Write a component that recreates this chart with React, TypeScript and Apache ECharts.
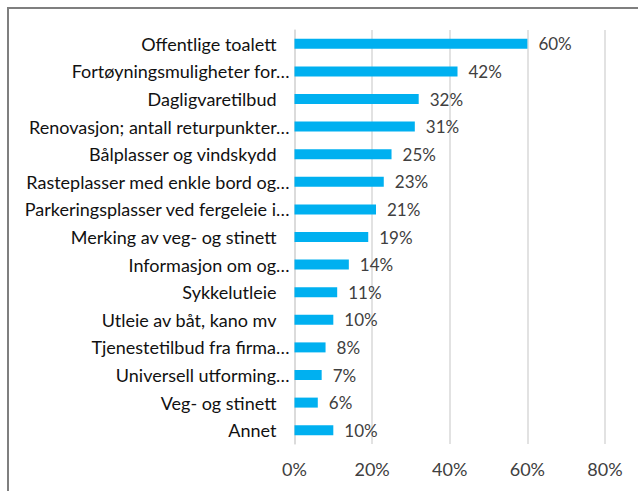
import React, { useEffect, useRef } from "react";
import * as echarts from "echarts";

const categories: string[] = [
  "Offentlige toalett",
  "Fortøyningsmuligheter for…",
  "Dagligvaretilbud",
  "Renovasjon; antall returpunkter…",
  "Bålplasser og vindskydd",
  "Rasteplasser med enkle bord og…",
  "Parkeringsplasser ved fergeleie i…",
  "Merking av veg- og stinett",
  "Informasjon om og…",
  "Sykkelutleie",
  "Utleie av båt, kano mv",
  "Tjenestetilbud fra firma…",
  "Universell utforming…",
  "Veg- og stinett",
  "Annet",
];

const values: number[] = [60, 42, 32, 31, 25, 23, 21, 19, 14, 11, 10, 8, 7, 6, 10];

const xTicks: number[] = [0, 20, 40, 60, 80];

const FONT = "Lato";

export default function App() {
  const ref = useRef<HTMLDivElement>(null);
  useEffect(() => {
    if (!ref.current) return;
    const chart = echarts.init(ref.current, null, { renderer: "svg" });
    chart.setOption({
      animation: false,
      backgroundColor: "#ffffff",
      textStyle: { fontFamily: FONT },
      graphic: [
        {
          type: "rect",
          shape: { x: 8, y: 8, width: 700, height: 600 },
          style: { fill: "none", stroke: "#7f7f7f", lineWidth: 2 },
          silent: true,
        },
      ],
      grid: { left: 294.5, right: 33, top: 30, bottom: 47, containLabel: false },
      xAxis: {
        type: "value",
        min: xTicks[0],
        max: xTicks[xTicks.length - 1],
        interval: 20,
        axisLine: { show: false },
        axisTick: { show: false },
        splitLine: { show: true, lineStyle: { color: "#d9d9d9", width: 1.5 } },
        axisLabel: {
          formatter: (v: number) => v + "%",
          color: "#404040",
          fontSize: 18,
          fontFamily: FONT,
          margin: 16,
        },
      },
      yAxis: {
        type: "category",
        data: categories,
        inverse: true,
        axisLine: { show: true, lineStyle: { color: "#d9d9d9", width: 1.5 } },
        axisTick: { show: false },
        axisLabel: {
          color: "#111111",
          fontSize: 18,
          fontFamily: FONT,
          margin: 5,
          formatter: (v: string) => (v.endsWith("…") ? "{a|" + v + "}" : "{b|" + v + "}"),
          rich: {
            a: { fontSize: 18, fontFamily: FONT, color: "#111111" },
            b: { fontSize: 18, fontFamily: FONT, color: "#111111", padding: [0, 13, 0, 0] },
          },
        },
      },
      series: [
        {
          type: "bar",
          data: values,
          barWidth: 10,
          itemStyle: { color: "#00b0f0" },
          label: {
            show: true,
            position: "right",
            distance: 11,
            formatter: (p: any) => p.value + "%",
            color: "#404040",
            fontSize: 17,
            fontFamily: FONT,
          },
        },
      ],
    });
    return () => chart.dispose();
  }, []);
  return (
    <div
      ref={ref}
      style={{ position: "absolute", left: 0, top: 0, width: 638, height: 491 }}
    />
  );
}
